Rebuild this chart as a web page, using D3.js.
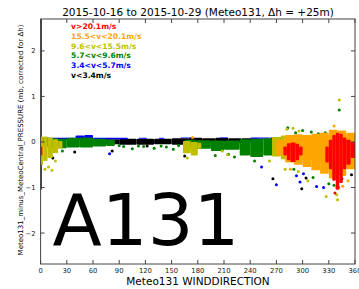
<!DOCTYPE html>
<html>
<head>
<meta charset="utf-8">
<script src="https://cdn.jsdelivr.net/npm/d3@7"></script>
<style>
  body { margin: 0; background: #fff; }
  text { font-family: "DejaVu Sans", sans-serif; }
</style>
</head>
<body>
<svg id="chart" width="359" height="289"></svg>
<script>
// speed classes, slowest first (drawn first, so fastest ends on top)
let labels = ["v<3.4m/s", "3.4<v<5.7m/s", "5.7<v<9.6m/s", "9.6<v<15.5m/s", "15.5<v<20.1m/s", "v>20.1m/s"];
let colors = ["#000000", "#0000ff", "#008000", "#bfbf00", "#ffa500", "#ff0000"];
let xTicks = [0, 30, 60, 90, 120, 150, 180, 210, 240, 270, 300, 330, 360];
let yTicks = [-2, -1, 0, 1, 2];

// dense parts: [dirFrom, dirTo, top, bottom]
let blackCols = [[0, 1.3, 2.7, -1.05], [55, 70, 0.05, -0.04], [70, 90, 0.06, -0.05], [90, 110, 0.07, -0.06],
  [110, 130, 0.07, -0.06], [130, 150, 0.07, -0.05], [150, 170, 0.08, -0.06], [170, 185, 0.09, -0.03],
  [185, 200, 0.08, -0.02], [200, 215, 0.09, -0.03], [215, 230, 0.08, -0.02], [230, 250, 0.08, 0.0]];
let blueCols = [[1, 10, 0.1, 0.04], [10, 40, 0.09, 0.05], [40, 50, 0.14, 0.06], [50, 60, 0.15, 0.07],
  [60, 100, 0.09, 0.06], [112, 122, 0.09, 0.07], [135, 142, 0.09, 0.07], [160, 175, 0.1, 0.08],
  [205, 215, 0.1, 0.08], [240, 262, 0.1, 0.07], [262, 272, 0.1, 0.05]];
let greenCols = [[3, 10, 0.08, -0.1], [10, 20, 0.08, -0.14], [20, 30, 0.07, -0.14], [30, 45, 0.09, -0.12],
  [45, 60, 0.1, -0.12], [60, 75, 0.07, -0.1], [75, 85, 0.05, -0.09], [165, 178, 0.05, -0.12],
  [178, 195, 0.04, -0.15], [195, 210, 0.03, -0.2], [210, 228, 0.03, -0.17], [228, 240, 0.06, -0.3],
  [240, 255, 0.07, -0.33], [255, 268, 0.08, -0.3], [268, 280, 0.1, -0.22]];
let yellowCols = [[0, 3, 0.12, -0.5], [3, 8, 0.12, -0.42], [8, 14, 0.1, -0.35], [14, 20, 0.06, -0.25],
  [20, 25, 0.02, -0.15], [163, 172, 0.02, -0.25], [172, 180, 0.0, -0.3], [180, 184, -0.02, -0.15],
  [265, 275, 0.11, -0.32], [275, 285, 0.14, -0.38], [285, 300, 0.15, -0.4], [300, 315, 0.13, -0.42],
  [315, 330, 0.14, -0.45], [330, 345, 0.15, -0.5], [345, 360, 0.13, -0.4]];
let orangeCols = [[0, 2, 0.0, -0.3], [270, 280, 0.05, -0.3], [280, 290, 0.15, -0.45], [290, 300, 0.17, -0.5],
  [300, 310, 0.15, -0.55], [310, 320, 0.18, -0.62], [320, 330, 0.2, -0.7], [330, 340, 0.27, -0.8],
  [340, 350, 0.25, -0.75], [350, 360, 0.2, -0.6]];
let redCols = [[0, 2, -0.1, -0.3], [278, 282, -0.1, -0.3], [282, 286, -0.03, -0.4], [286, 292, -0.01, -0.44],
  [292, 296, -0.04, -0.4], [296, 300, -0.1, -0.3], [326, 330, -0.1, -0.45], [330, 334, 0.05, -0.6],
  [334, 338, 0.15, -0.85], [338, 342, 0.2, -1.05], [342, 346, 0.18, -0.9], [346, 350, 0.1, -0.6],
  [350, 355, 0.05, -0.5], [355, 360, 0.0, -0.35]];

// scattered points: [dir, value]
let blackPts = [[14, -0.35], [39, -0.22], [82, -0.2], [122, -0.09], [165, -0.31], [266, -0.81],
  [299, -1.03], [304, -0.79], [356, -0.72]];
let bluePts = [[79, -0.26], [253, -0.55], [270, -0.94], [293, -0.74], [301, -0.7], [297, -0.88],
  [316, -0.98], [324, -1.0], [345, -0.81]];
let greenPts = [[12, -0.22], [25, -0.2], [90, -0.08], [95, -0.1], [105, -0.15], [112, -0.09], [118, -0.1],
  [130, -0.14], [138, -0.09], [144, -0.11], [152, -0.16], [158, -0.08], [200, -0.3], [215, -0.27],
  [222, -0.33], [245, -0.42], [283, 0.31], [292, 0.2], [300, 0.25], [310, 0.22], [318, 0.18], [326, 0.2],
  [342, 0.7], [290, -0.6], [312, -0.78], [330, -0.92], [336, -0.95]];
let yellowPts = [[5, -0.6], [9, -0.55], [13, -0.62], [17, -0.42], [168, -0.35], [208, -0.2], [214, -0.28],
  [262, -0.42], [282, 0.28], [289, 0.3], [296, 0.24], [280, -0.6], [295, -0.65], [306, -0.85], [342, 0.92],
  [327, -1.2], [339, -1.16], [340, -1.27]];
let orangePts = [[174, 0.1], [286, -0.6], [339, -1.0], [346, -0.97], [352, -0.85], [336, 0.35]];
let redPts = [[337, -1.12], [341, -1.0]];

let cols = [blackCols, blueCols, greenCols, yellowCols, orangeCols, redCols];
let pts = [blackPts, bluePts, greenPts, yellowPts, orangePts, redPts];

let margin = { top: 19, right: 4, bottom: 25, left: 40.6 };
let width = 359 - margin.left - margin.right,
  height = 289 - margin.top - margin.bottom;

let svg = d3.select("#chart");
let g = svg.append("g").attr("transform", "translate(" + margin.left + "," + margin.top + ")");

let x = d3.scaleLinear().domain([0, 360]).range([0, width]);
let y = d3.scaleLinear().domain([-2.68, 2.7]).range([height, 0]);

// data
for (let i = 0; i < cols.length; i++) {
  g.append("g")
    .selectAll("rect")
    .data(cols[i])
    .enter()
    .append("rect")
    .attr("x", (d) => x(d[0]))
    .attr("width", (d) => x(d[1]) - x(d[0]))
    .attr("y", (d) => y(d[2]))
    .attr("height", (d) => y(d[3]) - y(d[2]))
    .attr("rx", 1)
    .attr("fill", colors[i]);
  g.append("g")
    .selectAll("circle")
    .data(pts[i])
    .enter()
    .append("circle")
    .attr("cx", (d) => x(d[0]))
    .attr("cy", (d) => y(d[1]))
    .attr("r", 1.5)
    .attr("fill", colors[i]);
}

// big station label
g.append("text")
  .attr("x", 12)
  .attr("y", 226)
  .attr("font-size", "72px")
  .attr("fill", "#000")
  .text("A131");

// frame and inward ticks
g.append("rect")
  .attr("width", width)
  .attr("height", height)
  .attr("fill", "none")
  .attr("stroke", "#444")
  .attr("stroke-width", 1);

let tl = 4;
g.selectAll(".xtb").data(xTicks).enter().append("line")
  .attr("x1", (d) => x(d)).attr("x2", (d) => x(d))
  .attr("y1", height).attr("y2", height - tl).attr("stroke", "#444");
g.selectAll(".xtt").data(xTicks).enter().append("line")
  .attr("x1", (d) => x(d)).attr("x2", (d) => x(d))
  .attr("y1", 0).attr("y2", tl).attr("stroke", "#444");
g.selectAll(".ytl").data(yTicks).enter().append("line")
  .attr("x1", 0).attr("x2", tl)
  .attr("y1", (d) => y(d)).attr("y2", (d) => y(d)).attr("stroke", "#444");
g.selectAll(".ytr").data(yTicks).enter().append("line")
  .attr("x1", width).attr("x2", width - tl)
  .attr("y1", (d) => y(d)).attr("y2", (d) => y(d)).attr("stroke", "#444");

g.selectAll(".xl").data(xTicks).enter().append("text")
  .attr("x", (d) => x(d))
  .attr("y", height + 9)
  .attr("text-anchor", "middle")
  .attr("font-size", "6.8px")
  .attr("fill", "#222")
  .text((d) => d);
g.selectAll(".yl").data(yTicks).enter().append("text")
  .attr("x", -5)
  .attr("y", (d) => y(d) + 2.5)
  .attr("text-anchor", "end")
  .attr("font-size", "6.8px")
  .attr("fill", "#222")
  .text((d) => (d < 0 ? "\u2212" + Math.abs(d) : d));

// legend
g.selectAll(".leg").data(labels.slice().reverse()).enter().append("text")
  .attr("x", 30.5)
  .attr("y", (d, i) => 10 + i * 9.8)
  .attr("font-size", "7.6px")
  .attr("font-weight", "bold")
  .attr("fill", (d, i) => colors[colors.length - 1 - i])
  .text((d) => d);

// titles
svg.append("text")
  .attr("x", 198)
  .attr("y", 16)
  .attr("text-anchor", "middle")
  .attr("font-size", "10.5px")
  .text("2015-10-16 to 2015-10-29 (Meteo131, \u0394h = +25m)");
svg.append("text")
  .attr("x", 198)
  .attr("y", 285)
  .attr("text-anchor", "middle")
  .attr("font-size", "10.5px")
  .text("Meteo131 WINDDIRECTION");
svg.append("text")
  .attr("transform", "translate(23,140) rotate(-90)")
  .attr("text-anchor", "middle")
  .attr("font-size", "7px")
  .text("Meteo131_minus_MeteoCentral_PRESSURE (mb, corrected for \u0394h)");
</script>
</body>
</html>
